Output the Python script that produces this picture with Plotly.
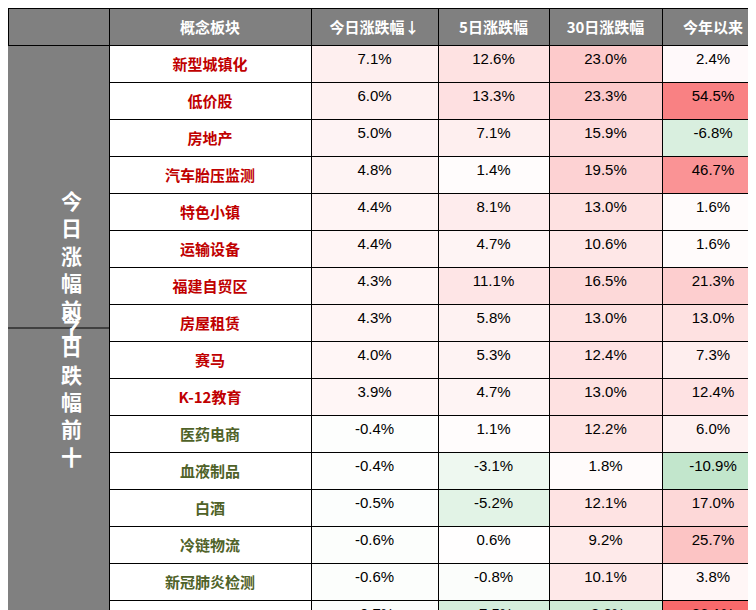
import plotly.graph_objects as go

# data
names_up = ["新型城镇化", "低价股", "房地产", "汽车胎压监测", "特色小镇", "运输设备",
            "福建自贸区", "房屋租赁", "赛马", "K-12教育"]
names_down = ["医药电商", "血液制品", "白酒", "冷链物流", "新冠肺炎检测", "光伏逆变器",
              "疫苗", "盐湖提锂", "稀土", "种植业"]
today = [7.1, 6.0, 5.0, 4.8, 4.4, 4.4, 4.3, 4.3, 4.0, 3.9,
         -0.4, -0.4, -0.5, -0.6, -0.6, -0.7, -0.8, -0.9, -1.1, -1.4]
day5 = [12.6, 13.3, 7.1, 1.4, 8.1, 4.7, 11.1, 5.8, 5.3, 4.7,
        1.1, -3.1, -5.2, 0.6, -0.8, -7.5, -1.3, -7.3, -1.8, 0.4]
day30 = [23.0, 23.3, 15.9, 19.5, 13.0, 10.6, 16.5, 13.0, 12.4, 13.0,
         12.2, 1.8, 12.1, 9.2, 10.1, -8.8, 9.2, -0.2, 7.6, 2.7]
ytd = [2.4, 54.5, -6.8, 46.7, 1.6, 1.6, 21.3, 13.0, 7.3, 12.4,
       6.0, -10.9, 17.0, 25.7, 3.8, 86.1, -6.5, 217.6, 155.2, 4.7]
headers = ["", "概念板块", "今日涨跌幅↓", "5日涨跌幅", "30日涨跌幅", "今年以来"]

GRAY = "#808080"
RED_TXT = "#c00000"
GREEN_TXT = "#4f6228"


def mix(c, t):
    t = max(0.0, min(1.0, t))
    return "rgb(%d,%d,%d)" % tuple(round(255 + (x - 255) * t) for x in c)


def cell_color(v):
    if v >= 0:
        return mix((248, 105, 107), v / 65)
    return mix((99, 190, 123), -v / 28)


names = names_up + names_down
n = len(names)
value_cols = [today, day5, day30, ytd]

fills = [[GRAY] * n, ["white"] * n] + [[cell_color(v) for v in col] for col in value_cols]
line_cols = [[GRAY] * n, ["black"] * n] + [["black"] * n for _ in value_cols]
name_colors = [RED_TXT] * len(names_up) + [GREEN_TXT] * len(names_down)

fig = go.Figure(go.Table(
    columnwidth=[101, 202, 127, 111, 113, 102],
    header=dict(
        values=["<b>%s</b>" % h for h in headers],
        fill_color=GRAY,
        line=dict(color="black", width=1),
        font=dict(color="white", size=15, family="Noto Sans CJK SC"),
        align="center",
        height=30,
    ),
    cells=dict(
        values=[[""] * n, ["<b>%s</b>" % s for s in names]]
        + [["%.1f%%" % v for v in col] for col in value_cols],
        fill_color=fills,
        line=dict(color=line_cols, width=1),
        font=dict(
            color=[["white"] * n, name_colors] + [["black"] * n] * 4,
            size=15,
            family=["Noto Sans CJK SC", "Noto Sans CJK SC",
                    "Liberation Sans", "Liberation Sans", "Liberation Sans", "Liberation Sans"],
        ),
        align="center",
        height=29,
    ),
    domain=dict(x=[0, 1], y=[0, 1]),
))

# merged group labels in the first column
for label, yc in [("今日涨幅前十", 0.713), ("今日跌幅前十", 0.2377)]:
    fig.add_annotation(
        text="<b>" + "<br>".join(label) + "</b>",
        x=101 / 2 / 756, y=yc, xref="paper", yref="paper",
        showarrow=False, font=dict(color="white", size=21, family="Noto Sans CJK SC"),
    )
fig.add_shape(type="line", xref="paper", yref="paper", x0=0, x1=101 / 756,
              y0=1 - 320 / 610, y1=1 - 320 / 610, line=dict(color="black", width=1))

fig.update_layout(width=756, height=610, margin=dict(l=0, r=0, t=0, b=0),
                  paper_bgcolor="white")
fig.write_html("out.html")
